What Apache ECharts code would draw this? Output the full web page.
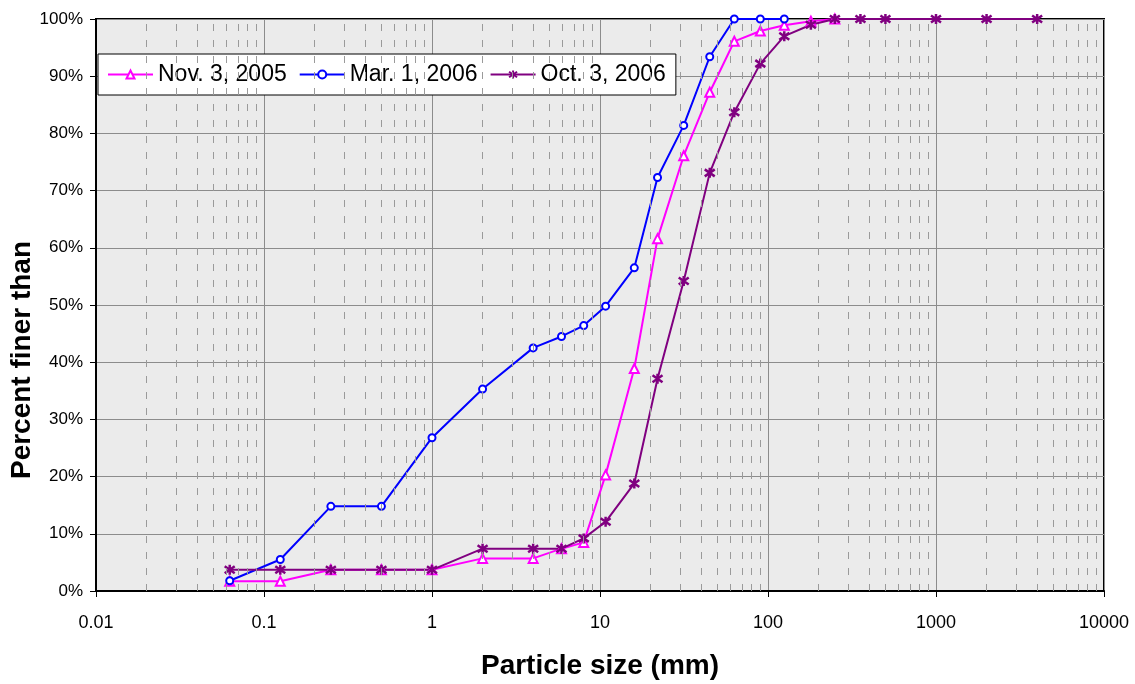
<!DOCTYPE html>
<html>
<head>
<meta charset="utf-8">
<script src="https://cdn.jsdelivr.net/npm/echarts@6/dist/echarts.min.js"></script>
<style>
html,body{margin:0;padding:0;background:#fff;}
#chart{width:1135px;height:684px;}
</style>
</head>
<body>
<div id="chart"></div>
<script>
// Particle sizes (mm)
const sizes = [0.0625, 0.125, 0.25, 0.5, 1, 2, 4, 5.9, 8, 10.8, 16, 22, 31.5, 45, 63, 90, 125, 180, 250, 355, 500, 1000, 2000, 4000];
// Percent finer than
const nov2005 = [1.7, 1.7, 3.7, 3.7, 3.7, 5.7, 5.7, 7.4, 8.5, 20.3, 38.9, 61.6, 76.1, 87.2, 96.1, 97.9, 98.9, 99.6, 100];
const mar2006 = [1.8, 5.5, 14.8, 14.8, 26.8, 35.3, 42.5, 44.5, 46.4, 49.8, 56.5, 72.3, 81.4, 93.4, 100, 100, 100];
const oct2006 = [3.7, 3.7, 3.7, 3.7, 3.7, 7.4, 7.4, 7.4, 9.2, 12.1, 18.8, 37.1, 54.2, 73.1, 83.7, 92.2, 97.0, 99.0, 100, 100, 100, 100, 100, 100];
const seriesNames = ['Nov. 3, 2005', 'Mar. 1, 2006', 'Oct. 3, 2006'];
const xTickValues = [0.01, 0.1, 1, 10, 100, 1000, 10000];
const yTickValues = [0, 10, 20, 30, 40, 50, 60, 70, 80, 90, 100];

const FONT = '"Liberation Sans", Arial, sans-serif';

function pairs(vals) {
  return vals.map((v, i) => [sizes[i], v]);
}

// minor (dashed) vertical grid lines at 2..9 x 10^k
const minorLines = [];
for (let k = -2; k <= 3; k++) {
  for (let m = 2; m <= 9; m++) {
    minorLines.push({ xAxis: +(m * Math.pow(10, k)).toPrecision(6) });
  }
}

const starPath = 'path://M5 0 L5 10 M0.7 1.5 L9.3 8.5 M9.3 1.5 L0.7 8.5';

const chart = echarts.init(document.getElementById('chart'), null, { renderer: 'canvas' });
chart.setOption({
  animation: false,
  backgroundColor: '#ffffff',
  textStyle: { fontFamily: FONT },
  grid: {
    left: 96, right: 31, top: 19, bottom: 93,
    containLabel: false,
    outerBoundsMode: 'none',
    show: true,
    backgroundColor: '#ebebeb',
    borderColor: '#000',
    borderWidth: 2
  },
  legend: {
    data: seriesNames,
    left: 98, top: 54,
    backgroundColor: '#fff',
    borderColor: '#000',
    borderWidth: 1,
    borderRadius: 0,
    padding: [9, 10, 9, 9],
    itemWidth: 45,
    itemHeight: 10,
    itemGap: 12,
    textStyle: { fontSize: 23, fontFamily: FONT, color: '#000' }
  },
  xAxis: {
    type: 'log',
    logBase: 10,
    min: 0.01,
    max: 10000,
    name: 'Particle size (mm)',
    nameLocation: 'middle',
    nameMoveOverlap: false,
    nameGap: 61,
    nameTextStyle: { fontSize: 28, fontWeight: 'bold', color: '#000', fontFamily: FONT },
    axisLine: { show: true, onZero: false, lineStyle: { color: '#000', width: 2 } },
    axisTick: { show: true, inside: false, length: 6, lineStyle: { color: '#000', width: 1 } },
    axisLabel: {
      fontSize: 18, color: '#000', margin: 23, fontFamily: FONT,
      formatter: v => String(+(+v).toPrecision(6))
    },
    splitLine: { show: true, lineStyle: { color: '#8c8c8c', width: 1 } },
    minorTick: { show: false },
    minorSplitLine: { show: false }
  },
  yAxis: {
    type: 'value',
    min: 0,
    max: 100,
    interval: 10,
    name: 'Percent finer than',
    nameLocation: 'middle',
    nameMoveOverlap: false,
    nameGap: 60,
    nameTextStyle: { fontSize: 28, fontWeight: 'bold', color: '#000', fontFamily: FONT, padding: [0, 110, 0, 0] },
    axisLine: { show: true, lineStyle: { color: '#000', width: 2 } },
    axisTick: { show: true, inside: false, length: 6, lineStyle: { color: '#000', width: 1 } },
    axisLabel: { fontSize: 17, color: '#000', margin: 13, fontFamily: FONT, formatter: '{value}%' },
    splitLine: { show: true, lineStyle: { color: '#8c8c8c', width: 1 } }
  },
  series: [
    {
      name: 'minorgrid',
      type: 'line',
      data: [],
      silent: true,
      markLine: {
        silent: true,
        symbol: ['none', 'none'],
        label: { show: false },
        emphasis: { disabled: true },
        lineStyle: { type: [7, 9], color: '#9a9a9a', width: 1 },
        data: minorLines
      }
    },
    {
      name: seriesNames[0],
      type: 'line',
      data: pairs(nov2005),
      color: '#ff00ff',
      symbol: 'emptyTriangle',
      symbolSize: 9,
      showAllSymbol: true,
      lineStyle: { width: 2, color: '#ff00ff' },
      itemStyle: { color: '#ff00ff', borderColor: '#ff00ff', borderWidth: 2 }
    },
    {
      name: seriesNames[1],
      type: 'line',
      data: pairs(mar2006),
      color: '#0000ff',
      symbol: 'emptyCircle',
      symbolSize: 7,
      showAllSymbol: true,
      lineStyle: { width: 2, color: '#0000ff' },
      itemStyle: { color: '#0000ff', borderColor: '#0000ff', borderWidth: 2 }
    },
    {
      name: seriesNames[2],
      type: 'line',
      data: pairs(oct2006),
      color: '#800080',
      symbol: starPath,
      symbolSize: 10,
      showAllSymbol: true,
      lineStyle: { width: 2, color: '#800080' },
      itemStyle: { color: '#800080', borderColor: '#800080', borderWidth: 2.5 }
    }
  ]
});
</script>
</body>
</html>
